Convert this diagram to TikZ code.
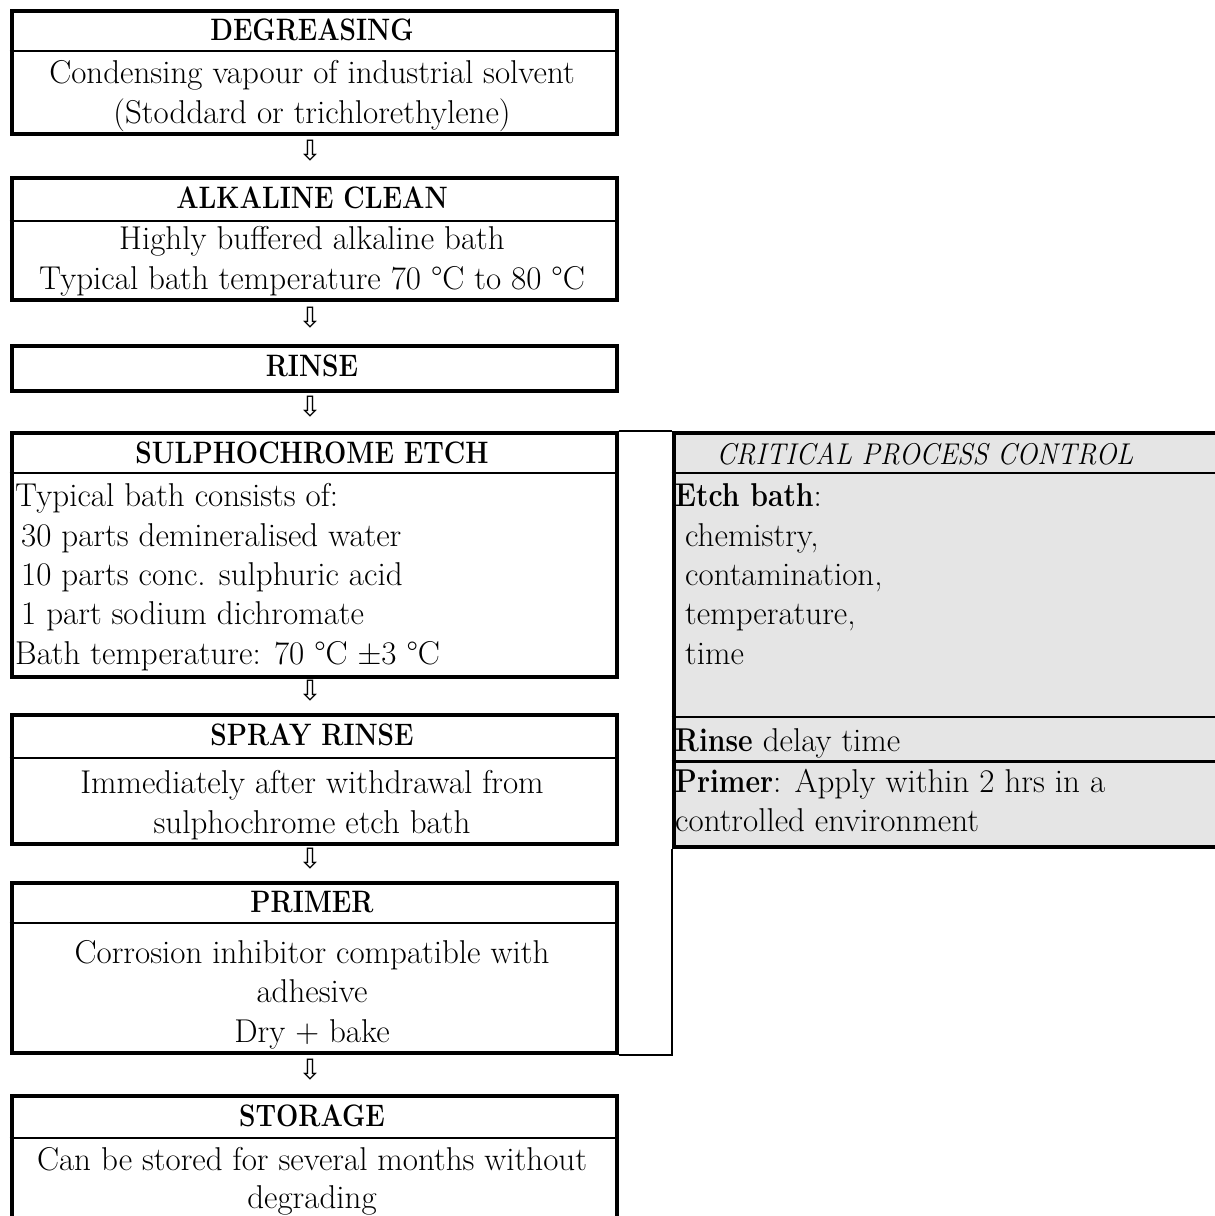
\documentclass[tikz,border=0pt]{standalone}
\usepackage{fontspec}
\usepackage{graphicx}
\newfontfamily\dejavu{DejaVu Sans}
\newcommand{\bw}[1]{\scalebox{0.86}[1]{\bfseries #1}}
\newcommand{\tw}[1]{\scalebox{0.85}[1]{#1}}
\newcommand{\iw}[1]{\scalebox{0.92}[1]{#1}}
\usetikzlibrary{calc}
\begin{document}
\begin{tikzpicture}[x=1pt,y=-1pt,
  stepbox/.style={draw, line width=4pt, inner sep=0pt, minimum width=605pt, anchor=north west},
  cpcbox/.style={draw, line width=4pt, fill=black!10, inner sep=0pt, anchor=north west},
  divline/.style={line width=2pt},
  conn/.style={line width=2pt},
  ttl/.style={anchor=base, inner sep=0pt, font=\fontsize{31}{36}\selectfont\bfseries},
  cpcttl/.style={anchor=base, inner sep=0pt, font=\fontsize{30}{36}\selectfont\itshape},
  body/.style={anchor=base, inner sep=0pt, font=\fontsize{33}{40}\selectfont},
  bodyl/.style={anchor=base west, inner sep=0pt, font=\fontsize{33}{40}\selectfont},
  darrow/.style={inner sep=0pt, font=\dejavu\fontsize{28}{28}\selectfont}
]
\clip (0,0) rectangle (1215,1216);
\fill[white] (0,0) rectangle (1215,1216);

% critical process control box
\node[cpcbox, minimum width=600pt, minimum height=414pt] (cpc) at (671.5,431) {};
\draw[divline] (671.5,473) -- (1220,473);
\draw[line width=1.5pt] (671.5,717) -- (1220,717);
\draw[line width=3pt] (671.5,761) -- (1220,761);
\node[cpcttl] (cpct) at (925,464) {\iw{CRITICAL PROCESS CONTROL}};
\node[bodyl] (c1) at (675,506) {\bw{Etch bath}:};
\node[bodyl] (c2) at (685,546) {chemistry,};
\node[bodyl] (c3) at (685,585) {contamination,};
\node[bodyl] (c4) at (685,624) {temperature,};
\node[bodyl] (c5) at (685,664) {time};
\node[bodyl] (c6) at (675,751) {\bw{Rinse} delay time};
\node[bodyl] (c7) at (675,792) {\bw{Primer}: Apply within 2 hrs in a};
\node[bodyl] (c8) at (675,831) {controlled environment};

% DEGREASING
\node[stepbox, minimum height=123pt] (deg) at (9.5,9) {};
\draw[divline] (9.5,51) -- (614.5,51);
\node[ttl] (degt) at (312,40) {\tw{DEGREASING}};
\node[body] (deg1) at (312,83.5) {Condensing vapour of industrial solvent};
\node[body] (deg2) at (312,123) {(Stoddard or trichlorethylene)};

% ALKALINE CLEAN
\node[stepbox, minimum height=122pt] (alk) at (9.5,176) {};
\draw[divline] (9.5,221) -- (614.5,221);
\node[ttl] (alkt) at (312,208.5) {\tw{ALKALINE CLEAN}};
\node[body] (alk1) at (312,249.5) {Highly buffered alkaline bath};
\node[body] (alk2) at (312,289) {Typical bath temperature 70 °C to 80 °C};

% RINSE
\node[stepbox, minimum height=45pt] (rin) at (9.5,344) {};
\node[ttl] (rint) at (312,376.5) {\tw{RINSE}};

% SULPHOCHROME ETCH
\node[stepbox, minimum height=244pt] (etch) at (9.5,431) {};
\draw[divline] (9.5,473) -- (614.5,473);
\node[ttl] (etcht) at (312,463) {\tw{SULPHOCHROME ETCH}};
\node[bodyl] (e1) at (15,506) {Typical bath consists of:};
\node[bodyl] (e2) at (21,546) {30 parts demineralised water};
\node[bodyl] (e3) at (21,585) {10 parts conc. sulphuric acid};
\node[bodyl] (e4) at (21,624) {1 part sodium dichromate};
\node[bodyl] (e5) at (15,664) {Bath temperature: 70 °C ±3 °C};

% SPRAY RINSE
\node[stepbox, minimum height=129pt] (spr) at (9.5,713) {};
\draw[divline] (9.5,758) -- (614.5,758);
\node[ttl] (sprt) at (312,745.5) {\tw{SPRAY RINSE}};
\node[body] (spr1) at (312,793.5) {Immediately after withdrawal from};
\node[body] (spr2) at (312,833) {sulphochrome etch bath};

% PRIMER
\node[stepbox, minimum height=170pt] (pri) at (9.5,881) {};
\draw[divline] (9.5,923) -- (614.5,923);
\node[ttl] (prit) at (312,912) {\tw{PRIMER}};
\node[body] (pri1) at (312,963) {Corrosion inhibitor compatible with};
\node[body] (pri2) at (312,1002.5) {adhesive};
\node[body] (pri3) at (312,1042) {Dry + bake};

% STORAGE
\node[stepbox, minimum height=200pt] (sto) at (9.5,1094) {};
\draw[divline] (9.5,1138) -- (614.5,1138);
\node[ttl] (stot) at (312,1126) {\tw{STORAGE}};
\node[body] (sto1) at (312,1170) {Can be stored for several months without};
\node[body] (sto2) at (312,1208) {degrading};

% arrows between steps
\node[darrow] (a1) at ($(deg.south)!0.5!(alk.north)+(-4,-5)$) {⇩};
\node[darrow] (a2) at ($(alk.south)!0.5!(rin.north)+(-4,-5)$) {⇩};
\node[darrow] (a3) at ($(rin.south)!0.5!(etch.north)+(-4,-5)$) {⇩};
\node[darrow] (a4) at ($(etch.south)!0.5!(spr.north)+(-4,-5)$) {⇩};
\node[darrow] (a5) at ($(spr.south)!0.5!(pri.north)+(-4,-5)$) {⇩};
\node[darrow] (a6) at ($(pri.south)!0.5!(sto.north)+(-4,-5)$) {⇩};

% bracket connector from etch/primer to control box
\draw[conn] (etch.north east) -- (cpc.north west);
\draw[conn] (cpc.south west) |- (pri.south east);
\end{tikzpicture}
\end{document}
